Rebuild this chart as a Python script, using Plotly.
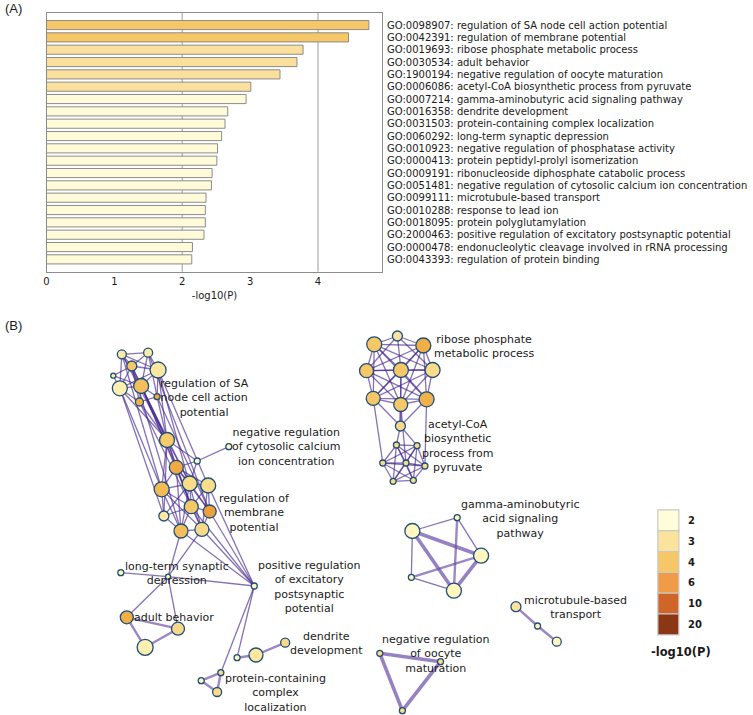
import plotly.graph_objects as go

# ---------------- Panel A data ----------------
go_terms = [
    "GO:0098907: regulation of SA node cell action potential",
    "GO:0042391: regulation of membrane potential",
    "GO:0019693: ribose phosphate metabolic process",
    "GO:0030534: adult behavior",
    "GO:1900194: negative regulation of oocyte maturation",
    "GO:0006086: acetyl-CoA biosynthetic process from pyruvate",
    "GO:0007214: gamma-aminobutyric acid signaling pathway",
    "GO:0016358: dendrite development",
    "GO:0031503: protein-containing complex localization",
    "GO:0060292: long-term synaptic depression",
    "GO:0010923: negative regulation of phosphatase activity",
    "GO:0000413: protein peptidyl-prolyl isomerization",
    "GO:0009191: ribonucleoside diphosphate catabolic process",
    "GO:0051481: negative regulation of cytosolic calcium ion concentration",
    "GO:0099111: microtubule-based transport",
    "GO:0010288: response to lead ion",
    "GO:0018095: protein polyglutamylation",
    "GO:2000463: positive regulation of excitatory postsynaptic potential",
    "GO:0000478: endonucleolytic cleavage involved in rRNA processing",
    "GO:0043393: regulation of protein binding",
]
neg_log_p = [4.75, 4.45, 3.78, 3.69, 3.44, 3.01, 2.94, 2.67, 2.63, 2.58,
             2.52, 2.51, 2.44, 2.43, 2.35, 2.34, 2.34, 2.32, 2.15, 2.14]
bar_colors = ["#F6C767", "#F6C767"] + ["#FAE09C"] * 4 + ["#FFFBD8"] * 14

# ---------------- Panel B data ----------------
node_names = [
    "a0", "a1", "a2", "a3", "a4", "a5", "a6", "a7", "a8", "a9", "a10",
    "a11", "a12", "a13", "a14", "a15", "a16", "a17", "a18", "a19", "a20",
    "b0", "b1", "b2", "b3", "b4", "b5", "b6", "b7", "b8", "b9", "b10", "b11",
    "c0", "c1", "c2", "c3", "c4", "c5", "c6", "c7", "c8", "c9",
    "c10", "c11", "c12", "c13", "c14", "c15", "c16",
    "d0", "d1", "d2", "d3", "d4",
    "e0", "e1", "e2",
    "f0", "f1", "f2",
]
node_x = [119.3, 145.7, 129.3, 155.7, 110.7, 117.3, 138.7, 137.0, 154.7, 164.7, 226.7,
          195.0, 174.0, 159.3, 187.5, 206.0, 189.0, 207.5, 161.5, 178.7, 199.7,
          118.3, 165.7, 252.3, 124.3, 175.7, 142.7, 235.0, 254.0, 283.3, 218.7, 199.0, 215.0,
          396.0, 372.7, 422.0, 365.0, 399.5, 431.3, 371.7, 399.3, 425.3, 399.0,
          395.0, 415.7, 381.3, 404.6, 423.6, 391.7, 412.0,
          456.0, 411.0, 480.0, 410.0, 452.7,
          515.0, 536.7, 556.0,
          378.3, 439.3, 401.0]
node_y = [354.3, 352.7, 366.0, 370.0, 375.7, 388.3, 386.0, 402.0, 396.7, 440.0, 446.7,
          461.0, 467.3, 489.3, 483.5, 485.5, 506.7, 511.5, 516.0, 531.0, 529.3,
          572.7, 576.7, 586.0, 617.3, 628.7, 647.3, 657.7, 655.0, 642.7, 672.7, 680.7, 692.0,
          336.0, 344.3, 345.5, 370.7, 370.0, 370.0, 398.3, 404.5, 399.3, 426.0,
          445.0, 445.7, 463.0, 463.0, 466.0, 481.3, 480.3,
          517.7, 531.0, 555.7, 577.3, 590.7,
          606.7, 626.0, 641.7,
          653.3, 661.7, 710.7]
node_size = [9, 9, 10, 16, 5, 15, 15, 8, 6, 15, 6,
             6, 14, 15, 15, 15, 14, 13, 10, 14, 14,
             6, 5, 6, 13, 13, 16, 6, 14, 9, 6, 6, 9,
             10, 15, 15, 14, 15, 15, 14, 14, 15, 10,
             6, 6, 6, 6, 6, 6, 6,
             6, 15, 15, 6, 15,
             10, 6, 9,
             6, 6, 6]
node_color = ["#FCEBA8", "#FCEBA8", "#F6C766", "#FCE7A0", "#FCEBA8", "#FDF0B0", "#F3BE5B",
              "#F0B545", "#F0A83A", "#F6CC6B", "#FFF6C0",
              "#FFF6C0", "#F0AA45", "#F3BB55", "#F9DC85", "#F9DD8A", "#F6C766", "#EE9F3A",
              "#FCEBA8", "#F3BD5A", "#F8D98A",
              "#FFF6C0", "#FFF6C0", "#FFF6C0", "#F0AF45", "#F8D98A", "#FDF0B0", "#FFF6C0",
              "#FCE7A0", "#F8D98A", "#F9DC85", "#FFF6C0", "#F9DC85",
              "#FBE29D", "#F6C766", "#F0AE45", "#F6C766", "#F6C766", "#F9DC8A", "#F6C766",
              "#F6C766", "#F0B04A", "#F8D98A",
              "#F9DC85", "#F9DC85", "#F9DC85", "#F9DC85", "#F9DC85", "#F9DC85", "#F9DC85",
              "#FFF6C0", "#FFF6C0", "#FFF6C0", "#FFF6C0", "#FFF6C0",
              "#FBE29D", "#FFF6C0", "#FFF6C0",
              "#F9DC85", "#F9DC85", "#F9DC85"]

edges_thin = [
    ("a0", "a1"), ("a0", "a2"), ("a0", "a3"), ("a0", "a5"), ("a0", "a6"), ("a1", "a2"),
    ("a1", "a3"), ("a1", "a6"), ("a2", "a3"), ("a2", "a5"), ("a2", "a6"), ("a2", "a7"),
    ("a3", "a6"), ("a3", "a8"), ("a4", "a5"), ("a4", "a6"), ("a4", "a2"), ("a5", "a6"),
    ("a5", "a7"), ("a6", "a7"), ("a6", "a8"), ("a7", "a8"), ("a3", "a5"), ("a1", "a8"),
    ("a5", "a9"), ("a6", "a9"), ("a7", "a9"), ("a2", "a9"), ("a3", "a9"), ("a8", "a9"),
    ("a0", "a9"), ("a5", "a13"), ("a5", "a18"), ("a6", "a12"), ("a6", "a14"), ("a7", "a16"),
    ("a3", "a15"), ("a3", "a20"), ("a8", "a17"), ("a2", "a19"), ("a0", "a13"), ("a1", "a17"),
    ("a6", "a20"), ("a9", "a12"), ("a9", "a13"), ("a9", "a14"), ("a9", "a16"), ("a9", "a18"),
    ("a9", "a11"), ("a11", "a12"), ("a11", "a14"), ("a10", "a11"), ("a12", "a13"),
    ("a12", "a14"), ("a12", "a15"), ("a12", "a16"), ("a13", "a14"), ("a13", "a16"),
    ("a13", "a18"), ("a13", "a19"), ("a14", "a15"), ("a14", "a16"), ("a14", "a17"),
    ("a15", "a16"), ("a15", "a17"), ("a16", "a17"), ("a16", "a18"), ("a16", "a19"),
    ("a16", "a20"), ("a17", "a20"), ("a18", "a19"), ("a19", "a20"), ("a12", "a17"),
    ("a13", "a20"), ("a14", "a19"), ("a15", "a20"), ("a12", "a19"), ("a14", "a18"),
    ("a19", "b1"), ("a20", "b1"), ("a16", "b2"), ("a17", "b2"), ("a20", "b2"), ("a15", "b2"),
    ("a19", "b2"), ("b0", "b1"), ("b1", "b2"), ("b1", "b3"), ("b1", "b4"), ("b2", "b6"),
    ("b2", "b9"),
    ("c0", "c1"), ("c0", "c2"), ("c0", "c4"), ("c0", "c3"), ("c0", "c5"), ("c1", "c2"),
    ("c1", "c3"), ("c1", "c4"), ("c1", "c5"), ("c1", "c6"), ("c1", "c7"), ("c1", "c8"),
    ("c2", "c3"), ("c2", "c4"), ("c2", "c5"), ("c2", "c6"), ("c2", "c7"), ("c2", "c8"),
    ("c3", "c4"), ("c3", "c5"), ("c3", "c6"), ("c3", "c7"), ("c3", "c8"), ("c4", "c5"),
    ("c4", "c6"), ("c4", "c7"), ("c4", "c8"), ("c5", "c6"), ("c5", "c7"), ("c5", "c8"),
    ("c6", "c7"), ("c6", "c8"), ("c7", "c8"), ("c6", "c9"), ("c8", "c9"), ("c4", "c9"),
    ("c9", "c10"), ("c9", "c11"), ("c6", "c12"), ("c8", "c14"), ("c7", "c13"),
    ("c10", "c11"), ("c10", "c12"), ("c10", "c13"), ("c10", "c14"), ("c10", "c15"),
    ("c10", "c16"), ("c11", "c12"), ("c11", "c13"), ("c11", "c14"), ("c11", "c15"),
    ("c11", "c16"), ("c12", "c13"), ("c12", "c15"), ("c12", "c16"), ("c13", "c14"),
    ("c13", "c15"), ("c13", "c16"), ("c14", "c15"), ("c14", "c16"), ("c15", "c16"),
    ("c12", "c14"),
    ("d0", "d1"), ("d0", "d2"), ("d1", "d3"), ("d3", "d4"),
]
edges_medium = [
    ("b3", "b4"), ("b3", "b5"), ("b4", "b5"), ("b6", "b7"), ("b7", "b8"),
    ("b9", "b10"), ("b10", "b11"), ("b9", "b11"), ("c7", "c9"),
    ("d0", "d4"), ("d3", "d2"), ("e0", "e1"), ("e1", "e2"),
]
edges_thick = [
    ("d1", "d2"), ("d1", "d4"), ("d2", "d4"),
    ("f0", "f1"), ("f1", "f2"), ("f0", "f2"),
]

net_labels = [
    ("regulation of SA<br>node cell action<br>potential", 202.5, 397.5),
    ("negative regulation<br>of cytosolic calcium<br>ion concentration", 284.5, 447.0),
    ("regulation of<br>membrane<br>potential", 252.5, 513.0),
    ("ribose phosphate<br>metabolic process", 482.5, 346.0),
    ("acetyl-CoA<br>biosynthetic<br>process from<br>pyruvate", 456.0, 446.3),
    ("gamma-aminobutyric<br>acid signaling<br>pathway", 519.5, 519.0),
    ("long-term synaptic<br>depression", 175.0, 573.5),
    ("positive regulation<br>of excitatory<br>postsynaptic<br>potential", 307.5, 587.0),
    ("adult behavior", 171.3, 617.7),
    ("dendrite<br>development", 325.0, 643.3),
    ("protein-containing<br>complex<br>localization", 274.0, 693.0),
    ("microtubule-based<br>transport", 575.0, 607.0),
    ("negative regulation<br>of oocyte<br>maturation", 435.0, 653.7),
]

legend_levels = ["2", "3", "4", "6", "10", "20"]
legend_colors = ["#FFFDDA", "#FBE29D", "#F6C766", "#F09B48", "#D0652A", "#8B3715"]

W, H = 753, 715
fig = go.Figure()

# ---------------- Panel A ----------------
bar_pos = list(range(len(go_terms)))
fig.add_trace(go.Bar(
    x=neg_log_p, y=bar_pos, orientation="h",
    marker=dict(color=bar_colors, line=dict(color="#8c8c8c", width=1)),
    width=0.74, xaxis="x", yaxis="y", hoverinfo="skip", showlegend=False,
))
for pos, term in zip(bar_pos, go_terms):
    fig.add_annotation(
        x=1, xref="x domain", y=pos, yref="y", text=term, showarrow=False,
        xanchor="left", yanchor="middle", xshift=3,
        font=dict(family="DejaVu Sans", size=10, color="#1a1a1a"),
    )
for gx in [2, 4]:
    fig.add_shape(type="line", x0=gx, x1=gx, y0=0, y1=1, xref="x", yref="y domain",
                  line=dict(color="#bdbdbd", width=1.5), layer="below")

# ---------------- Panel B ----------------
idx = {n: i for i, n in enumerate(node_names)}


def edge_xy(edges):
    xs, ys = [], []
    for a, b in edges:
        xs += [node_x[idx[a]], node_x[idx[b]], None]
        ys += [node_y[idx[a]], node_y[idx[b]], None]
    return xs, ys


for edges, w, col in [(edges_thin, 1.3, "rgba(68,38,142,0.65)"),
                      (edges_medium, 2.4, "rgba(100,70,165,0.65)"),
                      (edges_thick, 3.6, "rgba(105,75,170,0.7)")]:
    ex, ey = edge_xy(edges)
    fig.add_trace(go.Scatter(x=ex, y=ey, mode="lines", line=dict(color=col, width=w),
                             xaxis="x2", yaxis="y2", hoverinfo="skip", showlegend=False,
                             cliponaxis=False))

fig.add_trace(go.Scatter(
    x=node_x, y=node_y, mode="markers", xaxis="x2", yaxis="y2", cliponaxis=False,
    marker=dict(size=node_size, color=node_color, opacity=1,
                line=dict(color="#1F4E79", width=1.3)),
    hoverinfo="skip", showlegend=False,
))

for txt, lx, ly in net_labels:
    fig.add_annotation(x=lx, y=ly, xref="x2", yref="y2", text=txt, showarrow=False,
                       xanchor="center", yanchor="middle", align="center",
                       font=dict(family="DejaVu Sans", size=11, color="#1a1a1a"))

# colour legend
leg_x = [668] * len(legend_levels)
leg_y = [520.4 + 20.8 * i for i in range(len(legend_levels))]
fig.add_trace(go.Scatter(
    x=leg_x, y=leg_y, mode="markers", xaxis="x2", yaxis="y2",
    marker=dict(symbol="square", size=21, color=legend_colors,
                line=dict(color="#c9c9c9", width=1.2)),
    hoverinfo="skip", showlegend=False,
))
for lab, ly in zip(legend_levels, leg_y):
    fig.add_annotation(x=686, y=ly, xref="x2", yref="y2", text="<b>" + lab + "</b>",
                       showarrow=False, xanchor="left", yanchor="middle",
                       font=dict(family="DejaVu Sans", size=10, color="#1a1a1a"))
fig.add_annotation(x=680.5, y=652, xref="x2", yref="y2", text="<b>-log10(P)</b>",
                   showarrow=False, xanchor="center", yanchor="middle",
                   font=dict(family="DejaVu Sans", size=11.5, color="#1a1a1a"))

fig.add_annotation(x=0, y=8, xref="x2", yref="y2", text="(A)", showarrow=False,
                   xanchor="left", yanchor="middle",
                   font=dict(family="Liberation Sans", size=13, color="#1a1a1a"))
fig.add_annotation(x=0, y=325, xref="x2", yref="y2", text="(B)", showarrow=False,
                   xanchor="left", yanchor="middle",
                   font=dict(family="Liberation Sans", size=13, color="#1a1a1a"))

fig.update_layout(
    width=W, height=H, margin=dict(l=0, r=0, t=0, b=0),
    paper_bgcolor="white", plot_bgcolor="rgba(0,0,0,0)",
    xaxis=dict(domain=[43.7 / W, 381 / W], range=[0, 4.95], tickvals=[0, 1, 2, 3, 4],
               showgrid=False, zeroline=False, showline=True, mirror=True,
               linecolor="#8c8c8c", linewidth=1.2, ticks="",
               tickfont=dict(family="DejaVu Sans", size=10, color="#1a1a1a"),
               title=dict(text="-log10(P)", standoff=6,
                          font=dict(family="DejaVu Sans", size=10, color="#1a1a1a")),
               anchor="y", fixedrange=True),
    yaxis=dict(domain=[1 - 271.7 / H, 1 - 12.7 / H], range=[20, -1], showticklabels=False,
               showgrid=False, zeroline=False, showline=True, mirror=True,
               linecolor="#8c8c8c", linewidth=1.2, ticks="", anchor="x", fixedrange=True),
    xaxis2=dict(domain=[0, 1], range=[0, W], visible=False, anchor="y2", fixedrange=True),
    yaxis2=dict(domain=[0, 1], range=[H, 0], visible=False, anchor="x2", fixedrange=True),
)

fig.write_html(
    "out.html",
    config={"displayModeBar": False},
    post_script="document.body.style.margin='0';document.body.style.overflow='hidden';",
)
